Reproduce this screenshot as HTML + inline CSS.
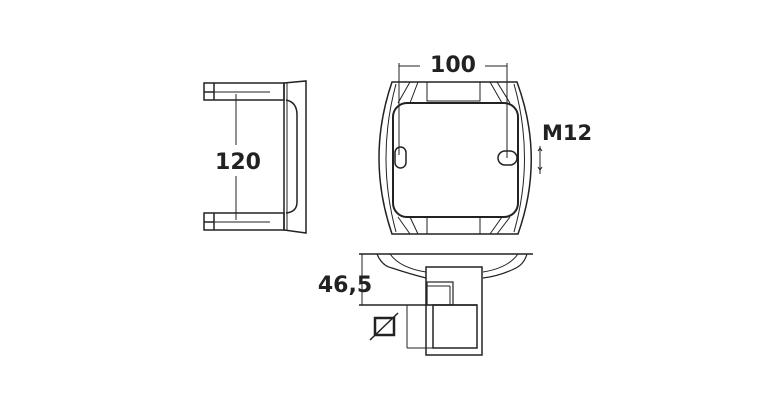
<!DOCTYPE html>
<html><head><style>body{margin:0;background:#fff}svg{display:block}text{font-family:"DejaVu Sans","Liberation Sans",sans-serif;font-weight:bold;fill:#222}</style></head><body>
<svg width="768" height="400" viewBox="0 0 768 400" fill="none" stroke="#222" stroke-width="1.5">
<!-- left view -->
<rect x="204" y="83" width="80" height="17"/>
<line x1="214" y1="83" x2="214" y2="100"/>
<line x1="204" y1="92" x2="214" y2="92"/>
<line x1="214" y1="92" x2="270" y2="92" stroke-width="1"/>
<rect x="204" y="213" width="80" height="17"/>
<line x1="214" y1="213" x2="214" y2="230"/>
<line x1="204" y1="222" x2="214" y2="222"/>
<line x1="214" y1="222" x2="270" y2="222" stroke-width="1"/>
<path d="M284 83 L306 81 L306 233 L284 230 Z"/>
<line x1="287" y1="83" x2="287" y2="230" stroke-width="1"/>
<path d="M286 100 Q297 102 297 115 L297 202 Q297 212 286 213"/>
<line x1="236" y1="94" x2="236" y2="145" stroke-width="1"/>
<line x1="236" y1="176" x2="236" y2="220" stroke-width="1"/>
<text x="238" y="169" font-size="22" text-anchor="middle" stroke="none">120</text>
<!-- front view -->
<path d="M392 82 L517 82 Q545 158 518 234 L392 234 Q366 158 392 82 Z"/>
<path d="M396 84 Q376 158 396 232" stroke-width="1"/>
<path d="M514 84 Q535 158 514 232" stroke-width="1"/>
<rect x="393" y="103" width="125" height="114" rx="14" stroke-width="2"/>
<rect x="427" y="82" width="53" height="19" stroke-width="1"/>
<rect x="427" y="217" width="53" height="17" stroke-width="1"/>
<path d="M410 82 L398 103 M418 82 L410 103 M490 82 L502 103 M497 82 L510 103 M410 234 L398 217 M418 234 L410 217 M490 234 L502 217 M497 234 L510 217" stroke-width="1"/>
<rect x="395" y="147" width="11" height="21" rx="5.5"/>
<rect x="498" y="151" width="19" height="14" rx="7"/>
<line x1="399" y1="63" x2="399" y2="155" stroke-width="1"/>
<line x1="507" y1="63" x2="507" y2="158" stroke-width="1"/>
<line x1="399" y1="66" x2="420" y2="66" stroke-width="1"/>
<line x1="485" y1="66" x2="507" y2="66" stroke-width="1"/>
<text x="453" y="72" font-size="22" text-anchor="middle" stroke="none">100</text>
<text x="542" y="140" font-size="21" stroke="none">M12</text>
<line x1="540" y1="146" x2="540" y2="174" stroke-width="1"/>
<path d="M538 151 L540 148 L542 151 M538 167 L540 170 L542 167" stroke-width="1"/>
<!-- bottom view -->
<line x1="359" y1="254" x2="533" y2="254"/>
<path d="M377 254 Q382 266 392 268 Q410 274 426 278 M483 278 Q500 276 516 268 Q524 264 527 254" stroke-width="1.2"/>
<path d="M390 254 Q400 268 426 272 M483 272 Q508 268 518 254" stroke-width="1"/>
<rect x="426" y="267" width="56" height="88"/>
<rect x="427" y="282" width="26" height="23" stroke-width="1.2"/>
<line x1="450" y1="286" x2="450" y2="305" stroke-width="1"/>
<line x1="427" y1="286" x2="450" y2="286" stroke-width="1"/>
<rect x="433" y="305" width="44" height="43"/>
<line x1="359" y1="305" x2="477" y2="305"/>
<line x1="362" y1="254" x2="362" y2="305" stroke-width="1"/>
<text x="345" y="292" font-size="22" text-anchor="middle" stroke="none">46,5</text>
<line x1="407" y1="305" x2="407" y2="348" stroke-width="1"/>
<line x1="407" y1="348" x2="433" y2="348" stroke-width="1"/>
<rect x="375" y="318" width="19" height="17" stroke-width="2.5"/>
<line x1="370" y1="340" x2="398" y2="313" stroke-width="1.5"/>
</svg>
</body></html>
